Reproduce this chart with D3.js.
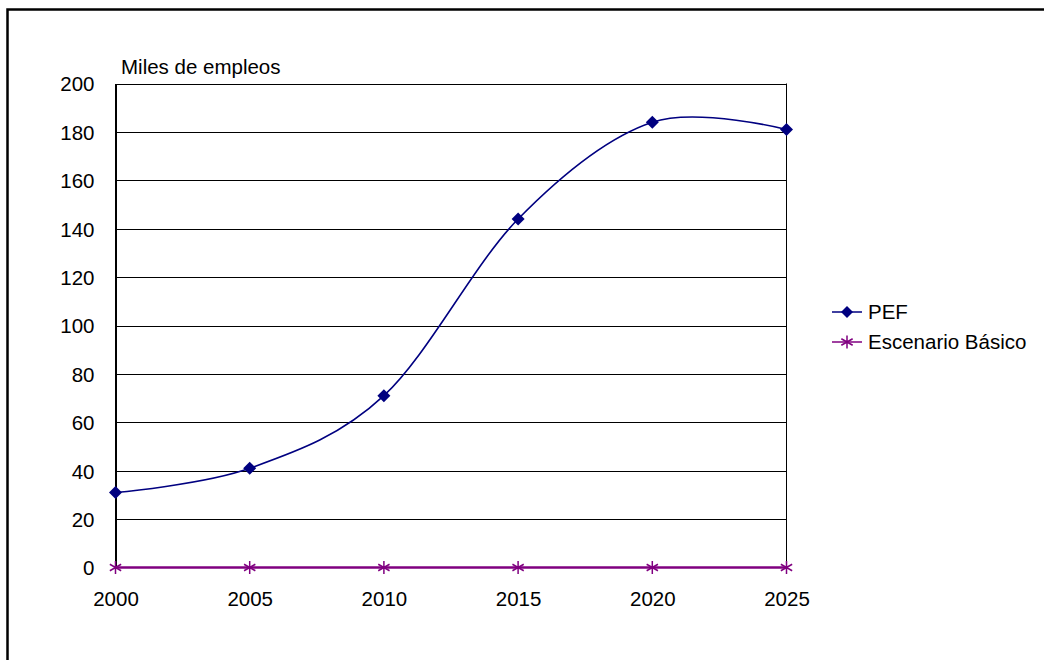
<!DOCTYPE html>
<html><head><meta charset="utf-8">
<script src="https://cdn.jsdelivr.net/npm/d3@7"></script>
<style>body{margin:0;background:#fff}svg{display:block}text{font-family:"Liberation Sans",Arial,sans-serif;fill:#000}</style>
</head><body>
<script>
const years = [2000, 2005, 2010, 2015, 2020, 2025];
const pef = [31, 41, 71, 144, 184, 181];
const basico = [0, 0, 0, 0, 0, 0];
const yTicks = [0, 20, 40, 60, 80, 100, 120, 140, 160, 180, 200];
const seriesNames = ["PEF", "Escenario Básico"];
const yTitle = "Miles de empleos";

const W = 1044, H = 660;
const svg = d3.select("body").append("svg").attr("width", W).attr("height", H);
const fs = 20.5;
// outer frame
svg.append("rect").attr("x", 7.5).attr("y", 9.5).attr("width", W + 10).attr("height", H + 10)
  .attr("fill", "none").attr("stroke", "#000").attr("stroke-width", 2.5);

const L = 115.5, R = 786.5, T = 83.5, B = 567.5;
const x = d3.scalePoint().domain(years).range([L, R]);
const y = d3.scaleLinear().domain([0, 200]).range([B, T]);

// gridlines
svg.append("g").selectAll("line").data(yTicks.filter(d => d > 0)).join("line")
  .attr("x1", L).attr("x2", R).attr("y1", d => Math.round(y(d)) + 0.5).attr("y2", d => Math.round(y(d)) + 0.5)
  .attr("stroke", "#000").attr("stroke-width", 1);
// right border
svg.append("line").attr("x1", R).attr("x2", R).attr("y1", T).attr("y2", B).attr("stroke", "#000");

// y axis
const ya = d3.axisLeft(y).tickValues(yTicks).tickSize(0).tickPadding(21);
const yg = svg.append("g").attr("transform", `translate(${L},0)`).call(ya);
yg.select(".domain").attr("stroke", "#000").attr("stroke-width", 2);
yg.selectAll("text").attr("font-size", fs).attr("font-family", "Liberation Sans, Arial").attr("dy", "0.36em");

// x axis
const xa = d3.axisBottom(x).tickSize(0).tickPadding(24);
const xg = svg.append("g").attr("transform", `translate(0,${B})`).call(xa);
xg.select(".domain").remove();
xg.selectAll("text").attr("font-size", fs).attr("font-family", "Liberation Sans, Arial");

svg.append("text").attr("x", 121).attr("y", 73.5).attr("font-size", fs).text(yTitle);

const line = d3.line().x((d, i) => x(years[i])).y(d => y(d));
// basic scenario
svg.append("path").attr("d", line(basico)).attr("fill", "none").attr("stroke", "#800080").attr("stroke-width", 2.5);
// PEF
svg.append("path").attr("d", line.curve(d3.curveCatmullRom.alpha(0))(pef)).attr("fill", "none")
  .attr("stroke", "#000080").attr("stroke-width", 1.6);

const diamond = (g, cx, cy, r) => g.append("path")
  .attr("d", `M${cx},${cy - r}L${cx + r},${cy}L${cx},${cy + r}L${cx - r},${cy}Z`).attr("fill", "#000080");
const star = (g, cx, cy, r) => {
  const p = [];
  p.push(`M${cx},${cy - r}L${cx},${cy + r}`);
  const a = r * 0.87, b = r * 0.5;
  p.push(`M${cx - a},${cy - b}L${cx + a},${cy + b}`);
  p.push(`M${cx - a},${cy + b}L${cx + a},${cy - b}`);
  g.append("path").attr("d", p.join("")).attr("stroke", "#800080").attr("stroke-width", 1.5).attr("fill", "none");
};
const mg = svg.append("g");
pef.forEach((v, i) => diamond(mg, x(years[i]), y(v), 6.5));
basico.forEach((v, i) => star(mg, x(years[i]), y(v), 6.5));

// legend
const lg = svg.append("g");
const ly = [312, 342];
lg.append("line").attr("x1", 832).attr("x2", 862).attr("y1", ly[0]).attr("y2", ly[0]).attr("stroke", "#000080").attr("stroke-width", 1.5);
diamond(lg, 847, ly[0], 6);
lg.append("line").attr("x1", 832).attr("x2", 862).attr("y1", ly[1]).attr("y2", ly[1]).attr("stroke", "#800080").attr("stroke-width", 1.5);
star(lg, 847, ly[1], 6.5);
seriesNames.forEach((n, i) => lg.append("text").attr("x", 868).attr("y", ly[i] + 7).attr("font-size", fs).text(n));
</script>
</body></html>
